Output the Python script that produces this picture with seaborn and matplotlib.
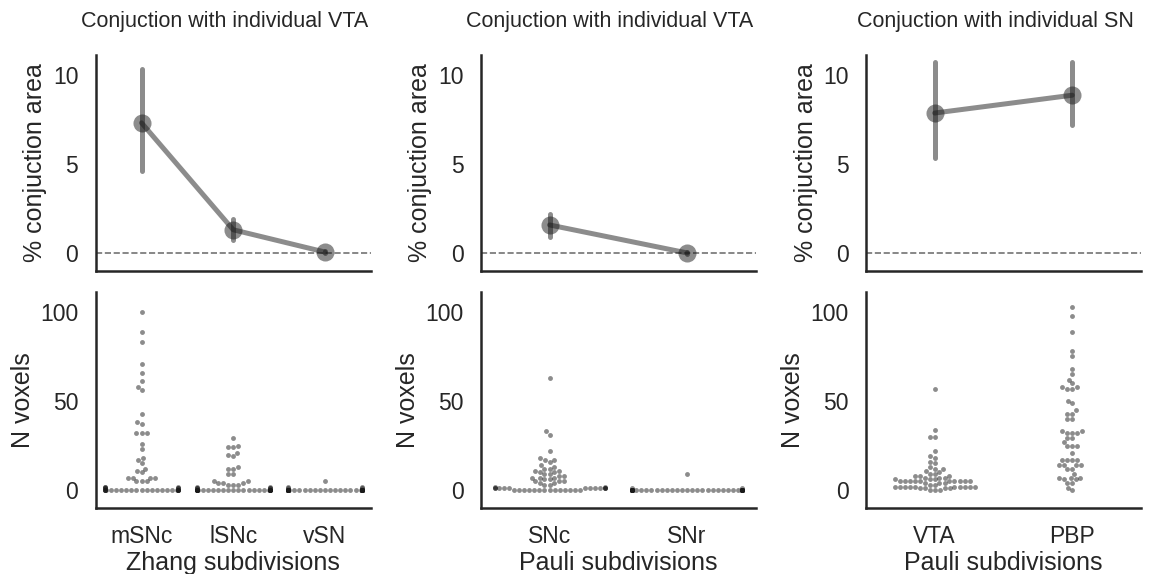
"""
Conjunction area (top) and voxel counts (bottom) per subdivision.
"""

import numpy as np
import pandas as pd
import matplotlib
matplotlib.use("Agg")
import matplotlib.pyplot as plt
import seaborn as sns

# ---- panel 1: Zhang subdivisions, conjunction with VTA ----
zhang_cats = ["mSNc", "lSNc", "vSN"]
zhang_pct_mean = [7.3, 1.3, 0.05]
zhang_pct_lo = [4.6, 0.7, 0.0]
zhang_pct_hi = [10.3, 1.9, 0.12]
msnc_vox = [100, 89, 83, 71, 66, 61, 58, 56, 43, 38, 37, 32, 32, 32, 26, 23,
            18, 17, 15, 12, 11, 10, 7, 7, 7, 7, 5, 5, 5,
            0, 0, 0, 0, 0, 0, 0, 0, 0, 0, 0, 0, 0, 0, 0, 0, 0, 0, 0, 0,
            0, 0, 0, 0, 1, 1, 1, 1, 2, 2, 2]
lsnc_vox = [29, 25, 24, 24, 21, 20, 19, 13, 12, 12, 9, 9, 5, 5, 4, 4, 4, 3, 3, 3,
            0, 0, 0, 0, 0, 0, 0, 0, 0, 0, 0, 0, 0, 0, 0, 0, 0, 0, 0, 0,
            0, 0, 0, 0, 0, 0, 0, 0, 0, 0, 0, 0, 0, 0, 1, 1, 1, 1, 2, 2]
vsn_vox = [5, 0, 0, 0, 0, 0, 0, 0, 0, 0, 0, 0, 0, 0, 0, 0, 0, 0, 0, 0,
           0, 0, 0, 0, 0, 0, 0, 0, 0, 0, 0, 0, 0, 0, 0, 0, 0, 0, 0, 0,
           0, 0, 0, 0, 0, 0, 0, 0, 0, 0, 0, 0, 0, 0, 0, 0, 1, 1, 2, 2]

# ---- panel 2: Pauli SN subdivisions, conjunction with VTA ----
pauli_sn_cats = ["SNc", "SNr"]
pauli_sn_pct_mean = [1.57, 0.0]
pauli_sn_pct_lo = [0.92, -0.05]
pauli_sn_pct_hi = [2.2, 0.05]
snc_vox = [63, 33, 31, 22, 18, 17, 17, 16, 14, 13, 12, 12, 11, 11, 10, 10, 9, 9,
           8, 8, 7, 7, 7, 6, 6, 5, 5, 5, 4, 4, 3, 3, 2, 2,
           1, 1, 1, 1, 1, 1, 1, 1, 1, 1, 1, 1,
           0, 0, 0, 0, 0, 0, 0, 0, 0, 0, 0, 0, 0, 0]
snr_vox = [9, 0, 0, 0, 0, 0, 0, 0, 0, 0, 0, 0, 0, 0, 0, 0, 0, 0, 0, 0,
           0, 0, 0, 0, 0, 0, 0, 0, 0, 0, 0, 0, 0, 0, 0, 0, 0, 0, 0, 0,
           0, 0, 0, 0, 0, 0, 0, 0, 0, 0, 0, 0, 0, 0, 0, 0, 0, 0, 1, 1]

# ---- panel 3: Pauli VTA subdivisions, conjunction with SN ----
pauli_vta_cats = ["VTA", "PBP"]
pauli_vta_pct_mean = [7.85, 8.85]
pauli_vta_pct_lo = [5.3, 7.2]
pauli_vta_pct_hi = [10.7, 10.7]
vta_vox = [57, 34, 30, 30, 22, 19, 18, 16, 15, 13, 12, 12, 11, 10, 9, 9,
           8, 8, 8, 7, 7, 7, 6, 6, 6,
           5, 5, 5, 5, 5, 5, 5, 5, 5, 5, 4, 4, 4, 3, 3,
           2, 2, 2, 2, 2, 2, 2, 2, 2, 2, 1, 1, 1, 1,
           0, 0, 0]
pbp_vox = [103, 98, 89, 78, 75, 68, 65, 62, 60, 58, 57, 57, 58, 50, 49, 45,
           43, 43, 40, 40, 33, 32, 32, 32, 33, 29, 29, 27, 25, 25, 25, 21,
           17, 17, 17, 17, 14, 14, 14, 14, 12, 12, 9, 7, 7, 7, 6, 6, 4, 4, 1, 0]

titles = ["Conjuction with individual VTA", "Conjuction with individual VTA",
          "Conjuction with individual SN"]
xlabels = ["Zhang subdivisions", "Pauli subdivisions", "Pauli subdivisions"]


def pct_frame(cats, lo, mean, hi):
    # three rows per category so that median = mean and min/max = interval
    rows = []
    for c, a, m, b in zip(cats, lo, mean, hi):
        rows += [(c, a), (c, m), (c, b)]
    return pd.DataFrame(rows, columns=["region", "pct"])


def vox_frame(cats, lists):
    rows = []
    for c, vals in zip(cats, lists):
        rows += [(c, v) for v in vals]
    return pd.DataFrame(rows, columns=["region", "voxels"])


panels = [
    (zhang_cats, pct_frame(zhang_cats, zhang_pct_lo, zhang_pct_mean, zhang_pct_hi),
     vox_frame(zhang_cats, [msnc_vox, lsnc_vox, vsn_vox])),
    (pauli_sn_cats, pct_frame(pauli_sn_cats, pauli_sn_pct_lo, pauli_sn_pct_mean, pauli_sn_pct_hi),
     vox_frame(pauli_sn_cats, [snc_vox, snr_vox])),
    (pauli_vta_cats, pct_frame(pauli_vta_cats, pauli_vta_pct_lo, pauli_vta_pct_mean, pauli_vta_pct_hi),
     vox_frame(pauli_vta_cats, [vta_vox, pbp_vox])),
]

sns.set_theme(style="white", context="talk")
plt.rcParams["font.family"] = ["Liberation Sans", "DejaVu Sans"]
plt.rcParams["axes.edgecolor"] = "#262626"
plt.rcParams["axes.linewidth"] = 1.8

fig, axes = plt.subplots(2, 3, figsize=(11.57, 5.74), dpi=100)
fig.subplots_adjust(left=0.0827, right=0.9862, top=0.904, bottom=0.115,
                    wspace=0.4, hspace=0.1)

for col, (cats, pct_df, vox_df) in enumerate(panels):
    ax = axes[0, col]
    ax.axhline(0, color="0.45", ls="--", lw=1.2, zorder=0)
    sns.pointplot(data=pct_df, x="region", y="pct", order=cats,
                  estimator="median", errorbar=("pi", 100), color="k",
                  markersize=13, markeredgewidth=0, linewidth=3.6, alpha=0.5,
                  err_kws={"alpha": 0.5, "linewidth": 3.6}, ax=ax)
    ax.set_xlim(-0.5, len(cats) - 0.5)
    ax.set_ylim(-1, 11.1)
    ax.set_yticks([0, 5, 10])
    ax.set_xlabel("")
    ax.set_ylabel("% conjuction area", fontsize=18)
    ax.tick_params(labelbottom=False, labelsize=16.5)
    ax.set_title(titles[col], fontsize=15.5, pad=20, x=0.47)

    ax = axes[1, col]
    sns.swarmplot(data=vox_df, x="region", y="voxels", order=cats,
                  color="k", alpha=0.5, size=3.5, ax=ax)
    ax.set_xlim(-0.5, len(cats) - 0.5)
    ax.set_ylim(-10, 111)
    ax.set_yticks([0, 50, 100])
    ax.set_xlabel(xlabels[col], fontsize=18, labelpad=2)
    ax.set_ylabel("N voxels", fontsize=18)
    ax.tick_params(labelsize=16.5)

sns.despine(fig=fig)
fig.savefig("out.png", dpi=100)
